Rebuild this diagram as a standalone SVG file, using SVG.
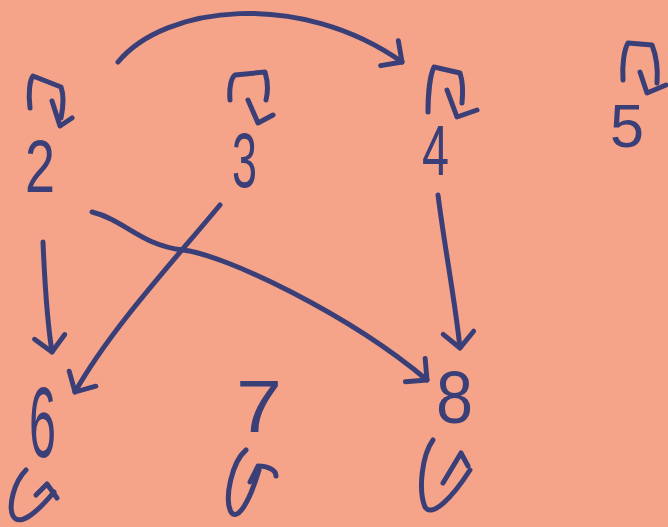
<svg xmlns="http://www.w3.org/2000/svg" width="668" height="527" viewBox="0 0 668 527">
<defs>
<style>
.ink{fill:none;stroke:#3b3f78;stroke-width:5;stroke-linecap:round;stroke-linejoin:round}
.lbl{font-family:"Liberation Sans",Arial,sans-serif;fill:#3b3f78}
</style>
<marker id="ah" viewBox="0 0 20 20" markerWidth="34" markerHeight="34" refX="10" refY="10" orient="auto" markerUnits="userSpaceOnUse" overflow="visible">
<path d="M1,1 L10,10 L1,19" fill="none" stroke="#3b3f78" stroke-width="2.9" stroke-linecap="round" stroke-linejoin="round"/>
</marker>
</defs>
<rect width="668" height="527" fill="#f5a48a"/>
<g id="connectors">
<path class="ink" d="M118,62 C165,5 300,-10 402,62" marker-end="url(#ah)"/>
<path class="ink" d="M43,242 C45,290 47,320 52,352" marker-end="url(#ah)"/>
<path class="ink" d="M220,205 C170,265 110,330 75,392" marker-end="url(#ah)"/>
<path class="ink" d="M92,212 C125,220 140,245 183,250 C226,255 350,315 427,380" marker-end="url(#ah)"/>
<path class="ink" d="M438,195 C445,250 455,300 460,348" marker-end="url(#ah)"/>
</g>
<g id="node2">
<text class="lbl" x="25" y="192" font-size="75" textLength="30" lengthAdjust="spacingAndGlyphs">2</text>
<path class="ink" d="M30,108 C28,92 30,80 33,76 L61,87 C64,95 63,108 61,118"/>
<path class="ink" d="M52,101 L60,126 L72,118"/>
</g>
<g id="node3">
<text class="lbl" x="232" y="187" font-size="78" textLength="25" lengthAdjust="spacingAndGlyphs">3</text>
<path class="ink" d="M230,100 C229,88 231,78 235,75 L265,72 C268,82 268,92 266,100"/>
<path class="ink" d="M248,100 L258,123 L273,115"/>
</g>
<g id="node4">
<text class="lbl" x="422" y="175" font-size="70" textLength="27" lengthAdjust="spacingAndGlyphs">4</text>
<path class="ink" d="M428,112 C428,95 430,75 434,67 L460,73 C463,82 463,93 462,103"/>
<path class="ink" d="M447,90 L457,117 L477,110"/>
</g>
<g id="node5">
<text class="lbl" x="610" y="147" font-size="62" textLength="34" lengthAdjust="spacingAndGlyphs">5</text>
<path class="ink" d="M623,80 C622,65 624,50 628,43 L652,45 C656,55 658,70 657,83"/>
<path class="ink" d="M640,72 L647,93 L666,85"/>
</g>
<g id="node6">
<text class="lbl" x="29" y="457" font-size="100" textLength="27" lengthAdjust="spacingAndGlyphs">6</text>
<path class="ink" d="M26,470 C14,482 8,506 13,516 C19,526 34,516 54,492"/>
<path class="ink" d="M36,495 L47,484 L57,498"/>
</g>
<g id="node7">
<text class="lbl" x="236" y="432" font-size="75" textLength="46" lengthAdjust="spacingAndGlyphs">7</text>
<path class="ink" d="M246,450 C232,462 224,498 231,512 C238,522 250,500 259,470"/>
<path class="ink" d="M250,482 L258,466 C268,466 276,470 276,476"/>
</g>
<g id="node8">
<text class="lbl" x="436" y="423" font-size="74" textLength="37" lengthAdjust="spacingAndGlyphs">8</text>
<path class="ink" d="M433,440 C422,455 418,490 425,507 C432,518 452,498 470,470"/>
<path class="ink" d="M443,483 L461,453 L468,466"/>
</g>
</svg>
